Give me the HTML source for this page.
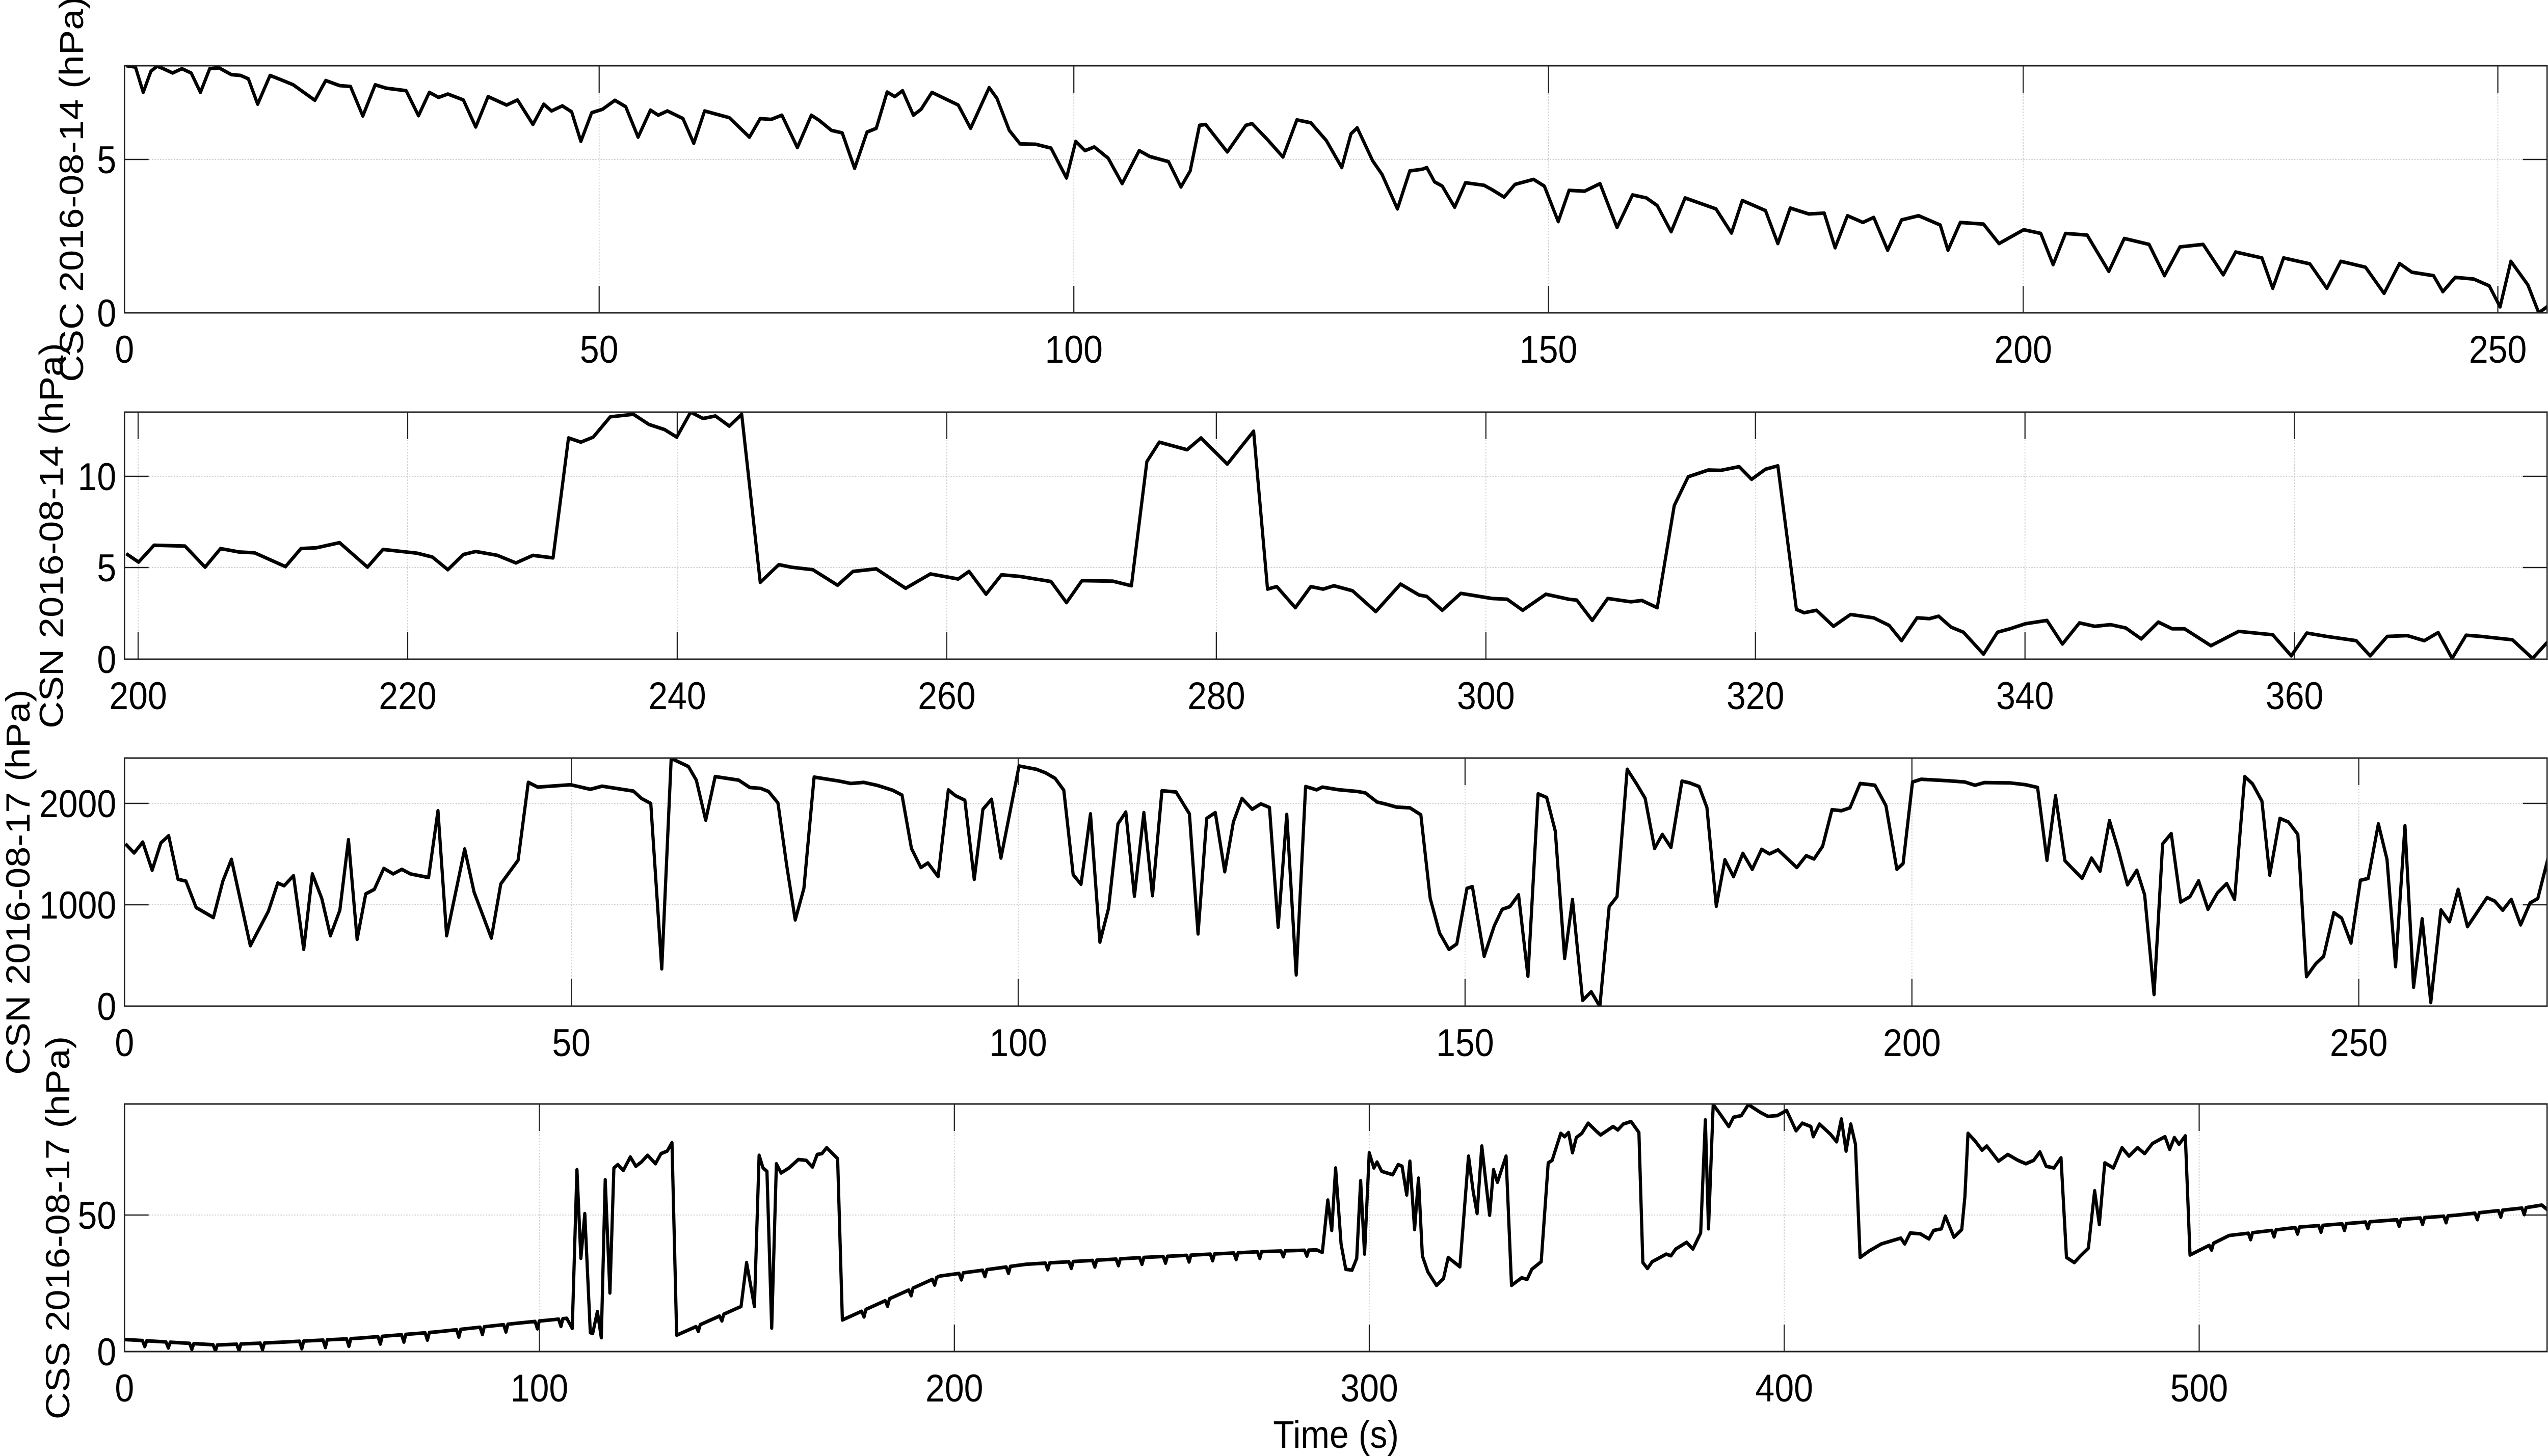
<!DOCTYPE html>
<html><head><meta charset="utf-8"><style>
html,body{margin:0;padding:0;background:#fff;width:100%;height:100%;overflow:hidden;}
svg{display:block;width:100vw;height:100vh;}
text{font-family:"Liberation Sans",Arial,sans-serif;fill:#000;}
</style></head><body>
<svg id="s" xmlns="http://www.w3.org/2000/svg" viewBox="0 0 5588 2858" preserveAspectRatio="none"></svg>
<script>
const S=document.getElementById('s');
let h='';
const L=273,R=5586;
const panels=[{t:129,b:614},{t:809,b:1294},{t:1488,b:1975},{t:2167,b:2653}];
h+='<defs>';
panels.forEach((p,i)=>{h+=`<clipPath id="c${i}"><rect x="${L}" y="${p.t}" width="${R-L}" height="${p.b-p.t}"/></clipPath>`;});
h+='</defs>';
function axes(i,xt,yt,label,lx){
  const p=panels[i];
  xt.forEach(([x])=>{h+=`<line x1="${x}" y1="${p.t}" x2="${x}" y2="${p.b}" stroke="#d0d0d0" stroke-width="2" stroke-dasharray="3,3"/>`;});
  yt.forEach(([y])=>{h+=`<line x1="${L}" y1="${y}" x2="${R}" y2="${y}" stroke="#d0d0d0" stroke-width="2" stroke-dasharray="3,3"/>`;});
  xt.forEach(([x,t])=>{h+=`<line x1="${x}" y1="${p.b}" x2="${x}" y2="${p.b-53}" stroke="#222" stroke-width="2.5"/><line x1="${x}" y1="${p.t}" x2="${x}" y2="${p.t+53}" stroke="#222" stroke-width="2.5"/>`;
    h+=`<text x="${x}" y="${p.b+98}" font-size="76" text-anchor="middle">${t}</text>`;});
  yt.forEach(([y,t])=>{h+=`<line x1="${L}" y1="${y}" x2="${L+53}" y2="${y}" stroke="#222" stroke-width="2.5"/><line x1="${R}" y1="${y}" x2="${R-53}" y2="${y}" stroke="#222" stroke-width="2.5"/>`;
    h+=`<text x="${L-18}" y="${y+27}" font-size="76" text-anchor="end">${t}</text>`;});
  const cy=(p.t+p.b)/2;
  h+=`<text x="${lx}" y="${cy}" font-size="74" text-anchor="middle" transform="rotate(-90 ${lx} ${cy})" dy="27">${label}</text>`;
}
function expand(pts){
  const out=[];let a=null;
  for(const p of pts){
    if(p[2]&&a){
      const P=30,D=p[3]||40;const n=Math.floor((p[0]-a[0])/P);
      const yAt=x=>a[1]+(p[1]-a[1])*(x-a[0])/(p[0]-a[0]);
      for(let k=0;k<n;k++){const x0=a[0]+k*P;
        out.push([x0+P*0.82,yAt(x0+P*0.82)]);out.push([x0+P*0.92,yAt(x0+P*0.92)+D]);out.push([x0+P,yAt(x0+P)]);}
      out.push([p[0],p[1]]);
    }else out.push([p[0],p[1]]);
    a=p;
  }
  return out;
}
function path(list,i){
  let d='';list.forEach((q,k)=>{d+=(k?'L':'M')+q[0].toFixed(1)+' '+q[1].toFixed(1);});
  h+=`<path d="${d}" fill="none" stroke="#000" stroke-width="7" stroke-linejoin="round" clip-path="url(#c${i})"/>`;
}
function map(pts,x0,fx,y0,fy){return pts.map(p=>[x0+p[0]*fx,y0+p[1]*fy]);}

const z9=[[2,57],[8,65],[13,215],[18,90],[22,60],[26,75],[32,100],[38,75],[44,100],[50,215],[56,75],[62,70],[70,110],[76,115],[81,135],[87,285],[95,115],[102,140],[110,170],[124,262],[131,145],[140,175],[147,180],[155,355],[163,170],[170,190],[183,205],[191,353],[198,215],[204,245],[210,225],[220,260],[228,420],[236,240],[248,290],[255,260],[265,405],[272,285],[277,325],[284,295],[290,330],[296,505],[303,335],[310,315],[318,262],[325,300],[333,480],[341,320],[346,350],[352,325],[362,370],[369,517],[376,325],[392,365],[405,480],[412,370],[419,375],[426,350],[436,542],[445,350],[450,380],[458,440],[465,455],[473,665],[481,450],[487,428],[494,213],[499,240],[504,205],[511,350],[516,315],[523,215],[540,290],[548,428],[560,187],[565,250],[573,440],[580,520],[590,522],[600,545],[610,722],[616,505],[622,560],[628,538],[637,605],[646,755],[657,560],[664,595],[676,625],[684,775],[690,680],[696,410],[700,405],[714,568],[726,410],[730,400],[740,495],[750,598],[759,378],[768,395],[778,500],[788,660],[794,460],[798,425],[808,620],[814,700],[824,905],[832,680],[840,670],[843,660],[848,745],[853,770],[861,895],[868,750],[880,765],[885,790],[893,835],[900,760],[912,730],[919,770],[928,980],[935,795],[945,800],[955,755],[966,1015],[976,822],[985,840],[992,885],[1001,1040],[1010,840],[1030,905],[1040,1048],[1047,855],[1062,915],[1070,1110],[1078,900],[1090,935],[1100,930],[1107,1135],[1115,945],[1125,985],[1132,955],[1141,1150],[1150,970],[1161,945],[1175,1000],[1180,1150],[1188,985],[1203,995],[1213,1110],[1229,1028],[1240,1050],[1248,1235],[1256,1050],[1270,1060],[1284,1275],[1294,1080],[1310,1115],[1320,1300],[1330,1130],[1345,1115],[1358,1295],[1366,1160],[1383,1195],[1390,1375],[1397,1195],[1414,1230],[1425,1375],[1434,1215],[1450,1250],[1462,1405],[1472,1228],[1480,1280],[1494,1300],[1500,1395],[1508,1310],[1520,1320],[1530,1360],[1537,1485],[1544,1215],[1555,1355],[1562,1520],[1568,1480]];
const z10=[[2,895],[10,945],[20,845],[40,850],[53,975],[63,865],[75,885],[85,890],[105,972],[115,865],[125,860],[140,830],[158,975],[168,870],[190,892],[200,915],[210,990],[220,900],[228,882],[242,905],[254,950],[265,905],[278,920],[288,210],[296,235],[304,205],[315,85],[330,70],[340,130],[350,160],[358,205],[367,57],[375,95],[383,80],[392,140],[400,70],[412,1065],[424,960],[432,975],[446,990],[462,1082],[472,1000],[487,985],[506,1100],[522,1015],[540,1045],[547,1000],[558,1135],[568,1020],[580,1030],[600,1060],[610,1185],[620,1055],[640,1058],[652,1085],[662,350],[670,235],[688,280],[697,210],[714,365],[731,170],[740,1105],[746,1090],[758,1215],[768,1090],[776,1105],[783,1085],[795,1115],[810,1238],[826,1075],[838,1140],[843,1148],[853,1230],[865,1130],[885,1160],[895,1165],[905,1230],[920,1135],[935,1165],[940,1170],[950,1290],[960,1160],[975,1180],[982,1172],[992,1215],[1003,610],[1012,440],[1025,400],[1033,402],[1045,380],[1053,455],[1062,395],[1070,375],[1082,1225],[1087,1245],[1095,1230],[1106,1325],[1117,1255],[1132,1275],[1142,1320],[1150,1410],[1160,1275],[1168,1280],[1174,1265],[1182,1330],[1190,1360],[1203,1490],[1212,1360],[1220,1340],[1230,1310],[1244,1290],[1254,1430],[1265,1305],[1275,1325],[1285,1315],[1295,1335],[1305,1400],[1316,1300],[1325,1340],[1333,1340],[1350,1440],[1368,1355],[1390,1375],[1402,1500],[1412,1365],[1425,1385],[1444,1410],[1453,1500],[1464,1385],[1477,1380],[1488,1410],[1497,1362],[1506,1515],[1515,1378],[1525,1385],[1545,1405],[1558,1515],[1568,1415]];
const z5=[[3,550],[14,600],[25,540],[37,695],[48,545],[58,505],[70,745],[80,755],[93,900],[115,955],[127,755],[138,635],[162,1110],[185,920],[197,765],[205,780],[217,725],[230,1130],[241,715],[253,850],[264,1055],[276,915],[287,527],[298,1075],[309,825],[320,800],[332,685],[344,715],[355,690],[366,715],[389,735],[401,368],[412,1055],[435,578],[447,815],[469,1068],[481,770],[503,640],[516,212],[528,238],[570,225],[595,250],[610,233],[650,260],[660,300],[672,328],[686,1237],[698,80],[720,125],[730,200],[742,420],[754,180],[784,200],[798,240],[812,245],[822,262],[834,325],[845,665],[856,968],[867,795],[880,183],[912,205],[927,218],[943,212],[960,228],[980,255],[992,282],[1004,575],[1016,680],[1025,655],[1038,730],[1051,253],[1060,285],[1072,310],[1084,745],[1095,360],[1106,305],[1118,628],[1141,122],[1163,140],[1175,160],[1187,190],[1198,255],[1210,720],[1220,772],[1232,385],[1244,1090],[1255,905],[1267,440],[1277,375],[1288,838],[1300,378],[1311,835],[1323,258],[1341,265],[1358,385],[1369,1045],[1380,410],[1391,378],[1403,703],[1414,430],[1425,300],[1438,360],[1449,330],[1460,350],[1471,1008],[1482,388],[1494,1270],[1506,235],[1520,253]];
const z6=[[0,238],[20,252],[45,262],[55,270],[70,320],[80,330],[95,348],[112,352],[126,390],[138,850],[150,1040],[162,1130],[172,1100],[185,795],[192,785],[207,1168],[220,1000],[230,910],[240,895],[251,830],[263,1278],[276,275],[287,295],[298,480],[310,1180],[320,856],[333,1410],[344,1363],[355,1443],[367,895],[377,840],[390,140],[402,220],[413,300],[425,575],[435,498],[446,570],[460,205],[470,215],[482,235],[492,350],[504,893],[515,637],[526,730],[538,602],[550,690],[562,580],[572,605],[583,583],[607,680],[619,615],[629,633],[640,563],[652,362],[664,368],[675,352],[688,218],[707,228],[721,340],[735,690],[743,658],[755,210],[766,195],[800,203],[822,210],[835,228],[847,213],[880,215],[900,225],[915,240],[927,640],[938,285],[950,643],[972,740],[984,628],[995,700],[1007,422],[1018,580],[1030,775],[1042,695],[1052,830],[1064,1378],[1075,550],[1086,493],[1098,870],[1110,840],[1121,753],[1133,910],[1145,820],[1157,768],[1167,855],[1180,180],[1190,220],[1202,315],[1212,722],[1225,410],[1236,430],[1248,498],[1259,1280],[1271,1208],[1281,1168],[1294,928],[1304,958],[1316,1095],[1328,750],[1338,740],[1351,440],[1362,635],[1373,1225],[1385,450],[1396,1338],[1407,962],[1418,1422],[1431,913],[1442,978],[1453,800],[1465,1005],[1490,845],[1500,865],[1510,915],[1521,855],[1533,995],[1545,875],[1555,850],[1568,630]];
const z7=[[0,1445],[120,1478,1,35],[200,1462,1,40],[300,1438,1,45],[400,1400,1,45],[500,1350,1,45],[565,1320,1,45],[572,1380],[578,440],[583,965],[588,700],[595,1405],[598,1410],[604,1280],[609,1435],[614,500],[620,1170],[625,430],[630,410],[637,445],[646,365],[653,420],[660,395],[668,355],[678,405],[685,345],[693,330],[699,280],[705,1420],[787,1250,1,35],[794,990],[804,1250],[810,355],[815,430],[820,450],[826,1378],[832,405],[838,460],[848,430],[860,380],[870,385],[878,425],[884,350],[890,345],[896,310],[910,375],[916,1330],[1040,1070,1,40],[1150,1000,1,40],[1300,960,1,40],[1450,925,1,40],[1520,915,1,35]];
const z8=[[0,930],[7,620],[12,800],[17,430],[24,880],[30,1030],[38,1035],[44,965],[49,505],[54,940],[60,340],[66,430],[70,395],[76,450],[90,470],[97,410],[102,420],[108,590],[112,390],[118,795],[123,490],[128,950],[135,1045],[146,1125],[155,1085],[161,960],[176,1015],[187,360],[193,570],[198,700],[204,300],[214,710],[219,440],[224,515],[235,360],[242,1125],[255,1080],[262,1090],[268,1030],[280,985],[289,400],[294,385],[305,225],[310,245],[315,220],[320,340],[325,250],[332,225],[340,165],[350,210],[356,235],[372,185],[378,205],[385,170],[395,155],[405,220],[410,990],[416,1025],[422,985],[440,940],[446,950],[452,910],[466,870],[474,910],[484,815],[490,145],[494,790],[500,55],[508,105],[520,185],[526,130],[536,120],[545,55],[560,100],[570,125],[582,120],[594,90],[606,210],[614,165],[625,185],[628,245],[636,170],[650,230],[658,275],[664,140],[670,330],[676,170],[682,290],[688,960],[700,920],[715,880],[740,845],[745,880],[752,815],[765,820],[776,850],[782,800],[792,790],[797,715],[808,840],[818,795],[822,600],[826,225],[835,270],[844,325],[850,300],[865,390],[877,350],[890,385],[900,405],[910,385],[918,335],[926,420],[936,430],[945,370],[952,960],[962,990],[970,950],[980,905],[988,565],[994,765],[1001,400],[1012,430],[1023,310],[1032,360],[1043,310],[1052,345],[1062,285],[1078,245],[1084,320],[1090,250],[1096,290],[1104,240],[1110,945],[1160,830,1,35],[1250,780,1,40],[1350,745,1,40],[1450,710,1,40],[1540,665,1,40],[1560,650],[1568,680]];

const p1x=[0,50,100,150,200,250].map(v=>[L+v*20.82,v]);
axes(0,p1x,[[614,0],[313,5]],'CSC 2016-08-14 (hPa)',155);
const p2x=[200,220,240,260,280,300,320,340,360].map(v=>[270+(9.7+(v-200)*8.715)*3.3916,v]);
axes(1,p2x,[[1294,0],[1114,5],[935,10]],'CSN 2016-08-14 (hPa)',111);
const p3x=[0,50,100,150,200,250].map(v=>[L+v*19.6,v]);
axes(2,p3x,[[1975,0],[1776,1000],[1577,2000]],'CSN 2016-08-17 (hPa)',38);
const p4x=[0,100,200,300,400,500].map(v=>[L+v*9.1,v]);
axes(3,p4x,[[2653,0],[2385,50]],'CSS 2016-08-17 (hPa)',125);

path(map(z9,270,3.3916,110,0.3316),0);
path(map(z10,270,3.3916,790,0.3316),1);
path(map(z5,270,1.722,1460,0.35714).filter(q=>q[0]<2900).concat(map(z6,2900,1.7143,1460,0.35714)),2);
path(map(expand(z7),270,1.722,2150,0.3316).filter(q=>q[0]<2900).concat(map(expand(z8),2900,1.7143,2150,0.3316)),3);

panels.forEach(p=>{h+=`<rect x="${L}" y="${p.t}" width="${R-L}" height="${p.b-p.t}" fill="none" stroke="#222" stroke-width="3"/>`;});
h+=`<text x="2930" y="2842" font-size="76" text-anchor="middle">Time (s)</text>`;
S.innerHTML=h;
</script>
</body></html>
